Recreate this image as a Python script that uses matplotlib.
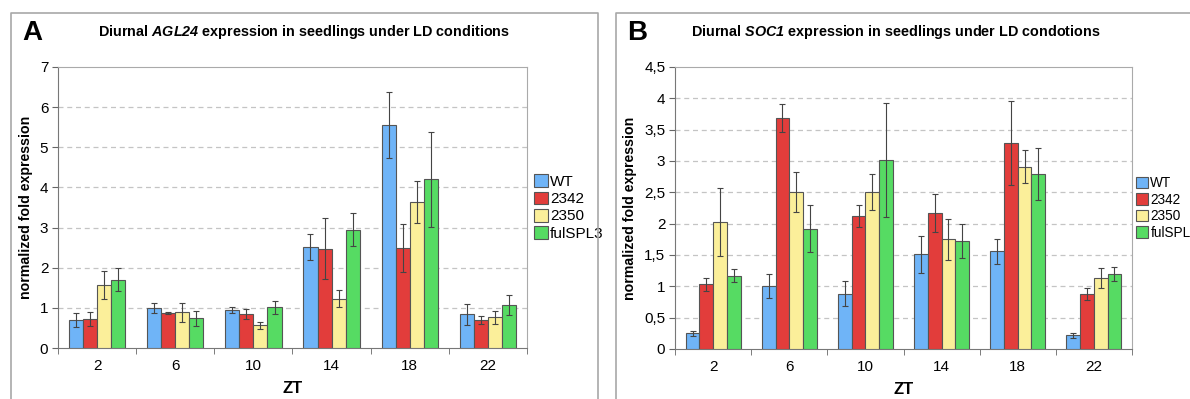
import numpy as np
import matplotlib
matplotlib.use("Agg")
import matplotlib.pyplot as plt
from matplotlib.patches import Rectangle
from matplotlib.lines import Line2D

plt.rcParams["font.family"] = ["Liberation Sans", "DejaVu Sans"]
plt.rcParams["mathtext.fontset"] = "custom"
plt.rcParams["mathtext.rm"] = "Liberation Sans:bold"
plt.rcParams["mathtext.bfit"] = "Liberation Sans:italic:bold"

zt = ["2", "6", "10", "14", "18", "22"]
genotypes_a = ["WT", "2342", "2350", "fulSPL3"]
genotypes_b = ["WT", "2342", "2350", "fulSPL"]
colors = ["#6fb4f7", "#e23d3b", "#fbef9a", "#56db63"]

# AGL24 (panel A): mean and error per genotype, per ZT
agl24_mean = [
    [0.70, 0.99, 0.94, 2.52, 5.56, 0.84],   # WT
    [0.72, 0.87, 0.84, 2.47, 2.49, 0.69],   # 2342
    [1.56, 0.89, 0.57, 1.23, 3.64, 0.77],   # 2350
    [1.70, 0.74, 1.01, 2.95, 4.20, 1.07],   # fulSPL3
]
agl24_err = [
    [0.17, 0.12, 0.08, 0.33, 0.82, 0.26],
    [0.17, 0.03, 0.13, 0.76, 0.60, 0.10],
    [0.35, 0.23, 0.09, 0.22, 0.53, 0.16],
    [0.29, 0.19, 0.16, 0.41, 1.18, 0.25],
]
# SOC1 (panel B)
soc1_mean = [
    [0.25, 1.00, 0.88, 1.51, 1.56, 0.22],
    [1.03, 3.69, 2.12, 2.17, 3.28, 0.88],
    [2.03, 2.50, 2.51, 1.75, 2.91, 1.14],
    [1.17, 1.92, 3.02, 1.73, 2.79, 1.20],
]
soc1_err = [
    [0.04, 0.19, 0.20, 0.30, 0.20, 0.04],
    [0.11, 0.22, 0.18, 0.31, 0.67, 0.10],
    [0.54, 0.32, 0.29, 0.33, 0.26, 0.16],
    [0.10, 0.38, 0.91, 0.27, 0.42, 0.11],
]
yticks_a = [0, 1, 2, 3, 4, 5, 6, 7]
ylabels_a = ["0", "1", "2", "3", "4", "5", "6", "7"]
yticks_b = [0, 0.5, 1, 1.5, 2, 2.5, 3, 3.5, 4, 4.5]
ylabels_b = ["0", "0,5", "1", "1,5", "2", "2,5", "3", "3,5", "4", "4,5"]

W, H = 1190, 399
fig = plt.figure(figsize=(W / 100, H / 100), dpi=100)


def px(x, y):
    return x / W, 1 - y / H


def panel(rect, means, errs, yticks, ylabels, names, letter, gene, tail,
          frame, leg_x, title_x, leg_fs):
    l, t, r, b = rect
    ax = fig.add_axes([l / W, 1 - b / H, (r - l) / W, (b - t) / H])
    x = np.arange(len(zt))
    bw = 0.18
    for i, (m, e) in enumerate(zip(means, errs)):
        ax.bar(x - 0.27 + i * bw, m, bw, color=colors[i], edgecolor="#555555",
               linewidth=0.8, label=names[i], zorder=3)
        ax.errorbar(x - 0.27 + i * bw, m, yerr=e, fmt="none", ecolor="#444444",
                    elinewidth=0.8, capsize=2.5, capthick=0.8, zorder=4)
    ax.set_xlim(-0.5, len(zt) - 0.5)
    ax.set_ylim(yticks[0], yticks[-1])
    ax.set_xticks(x)
    ax.set_xticklabels(zt, fontsize=11)
    ax.set_xticks(np.arange(len(zt) + 1) - 0.5, minor=True)
    ax.tick_params(axis="x", which="major", length=0, pad=8)
    ax.tick_params(axis="x", which="minor", length=4, color="#666666")
    ax.set_yticks(yticks)
    ax.set_yticklabels(ylabels, fontsize=11)
    ax.tick_params(axis="y", length=4, color="#666666", pad=3)
    for yv in yticks[1:-1]:
        ax.axhline(yv, color="#c4c4c4", ls=(0, (4, 3)), lw=0.9, zorder=1)
    for s in ["left", "bottom"]:
        ax.spines[s].set_color("#777777")
    for s in ["top", "right"]:
        ax.spines[s].set_color("#aaaaaa")
    ax.set_xlabel("ZT", fontsize=12, fontweight="bold", labelpad=6)
    ax.set_ylabel("normalized fold expression", fontsize=10.2,
                  fontweight="bold", labelpad=5)
    handles = [Rectangle((0, 0), 1, 1, facecolor=c, edgecolor="#555555",
                         linewidth=0.8) for c in colors]
    ax.legend(handles, names, loc="center left",
              bbox_to_anchor=((leg_x - l) / (r - l), 0.5), frameon=False,
              fontsize=leg_fs, handlelength=0.9, handleheight=0.9,
              handletextpad=0.15, labelspacing=0.18, borderaxespad=0,
              borderpad=0)
    # outer panel frame (open at the bottom)
    fl, ft, fr = frame
    xs = [fl / W, fl / W, fr / W, fr / W]
    ys = [0, 1 - ft / H, 1 - ft / H, 0]
    fig.add_artist(Line2D(xs, ys, color="#a8a8a8", lw=1.2))
    fig.text(*px(fl + 11, 33), letter, fontsize=20, fontweight="bold",
             va="center", ha="left")
    fig.text(*px(title_x, 32),
             r"Diurnal $\mathbfit{" + gene + "}$ " + tail,
             fontsize=10.4, fontweight="bold", va="center", ha="center")
    return ax


panel((58, 67, 527, 348), agl24_mean, agl24_err, yticks_a, ylabels_a,
      genotypes_a, "A", "AGL24", "expression in seedlings under LD conditions",
      (11, 13, 598), 534, 304, 11)
panel((675, 67, 1132, 349), soc1_mean, soc1_err, yticks_b, ylabels_b,
      genotypes_b, "B", "SOC1", "expression in seedlings under LD condotions",
      (616, 13, 1200), 1136, 896, 9.8)

fig.savefig("out.png", dpi=100)
